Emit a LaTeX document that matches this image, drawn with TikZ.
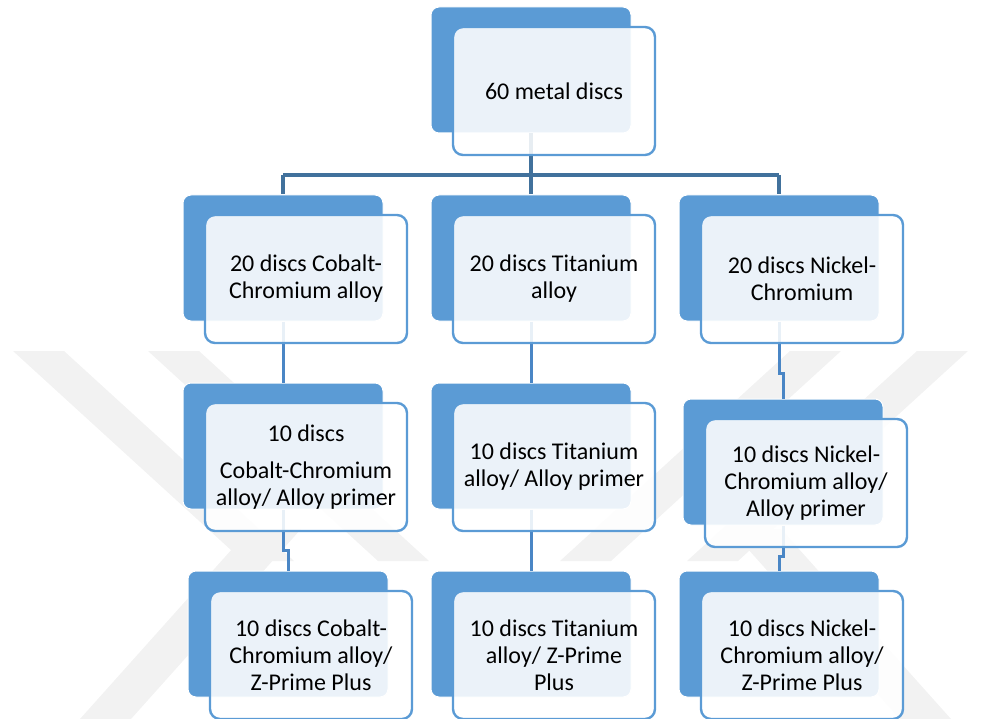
\documentclass[tikz,border=0pt]{standalone}
\usepackage{fontspec}
\setmainfont{Carlito}
\usetikzlibrary{calc}

\definecolor{cardblue}{HTML}{5B9BD5}
\definecolor{linkblue}{HTML}{4A86C5}
\definecolor{busblue}{HTML}{41719C}
\definecolor{wmgray}{HTML}{F2F2F2}

\begin{document}
\begin{tikzpicture}[x=1pt,y=-1pt,font=\fontsize{24}{27}\selectfont,
 backcard/.style={rectangle,rounded corners=8pt,fill=cardblue,draw=white,line width=1pt,
  minimum width=200pt,minimum height=126pt,inner sep=0pt},
 frontcard/.style={rectangle,rounded corners=10pt,draw=cardblue,line width=2.4pt,fill=white,
  fill opacity=.88,text opacity=1,minimum width=202pt,minimum height=128pt,inner sep=0pt,align=center},
 link/.style={draw=linkblue,line width=3pt},
 busline/.style={draw=busblue,line width=3.2pt}]
\useasboundingbox (0,0) rectangle (981,719);
\foreach \xa/\ya/\dx/\dy in {13/351/230/210,148/351/230/210,80/719/170/-190,
 917/351/-230/210,790/351/-230/210,900/719/-170/-190}
 \fill[wmgray] (\xa,\ya) -- ++(51,0) -- ++(\dx,\dy) -- ++(-51,0) -- cycle;
\foreach \nm/\x/\y in {top/531/70,cc/283/258,ti/531/258,nc/779/258,cca/283/446,tia/531/446,
 nca/783/462,ccz/288/634,tiz/531/634,ncz/779/634}
 \node[backcard] (\nm) at (\x,\y) {};
\coordinate (bus) at ($(top.south)!.68!(ti.north)$);
\draw[busline] (top.south) -- (bus) (bus -| cc.north) -- (bus -| nc.north)
 (bus -| cc.north) -- (cc.north) (bus) -- (ti.north) (bus -| nc.north) -- (nc.north);
\foreach \a/\b in {cc/cca,cca/ccz,ti/tia,tia/tiz,nc/nca,nca/ncz}
 \draw[link] (\a.south) |- ($(\a.south)!.68!(\b.north)$) -| (\b.north);
\foreach \nm/\txt in {top/{60 metal discs},
 cc/{20 discs Cobalt-\\Chromium alloy},
 ti/{20 discs Titanium\\alloy},
 nc/{20 discs Nickel-\\Chromium},
 cca/{10 discs\\[10pt]Cobalt-Chromium\\alloy/ Alloy primer},
 tia/{10 discs Titanium\\alloy/ Alloy primer},
 nca/{10 discs Nickel-\\Chromium alloy/\\Alloy primer},
 ccz/{10 discs Cobalt-\\Chromium alloy/\\Z-Prime Plus},
 tiz/{10 discs Titanium\\alloy/ Z-Prime\\Plus},
 ncz/{10 discs Nickel-\\Chromium alloy/\\Z-Prime Plus}}
 \node[frontcard] (f\nm) at ([shift={(23,21)}]\nm.center) {\txt};
\end{tikzpicture}
\end{document}
